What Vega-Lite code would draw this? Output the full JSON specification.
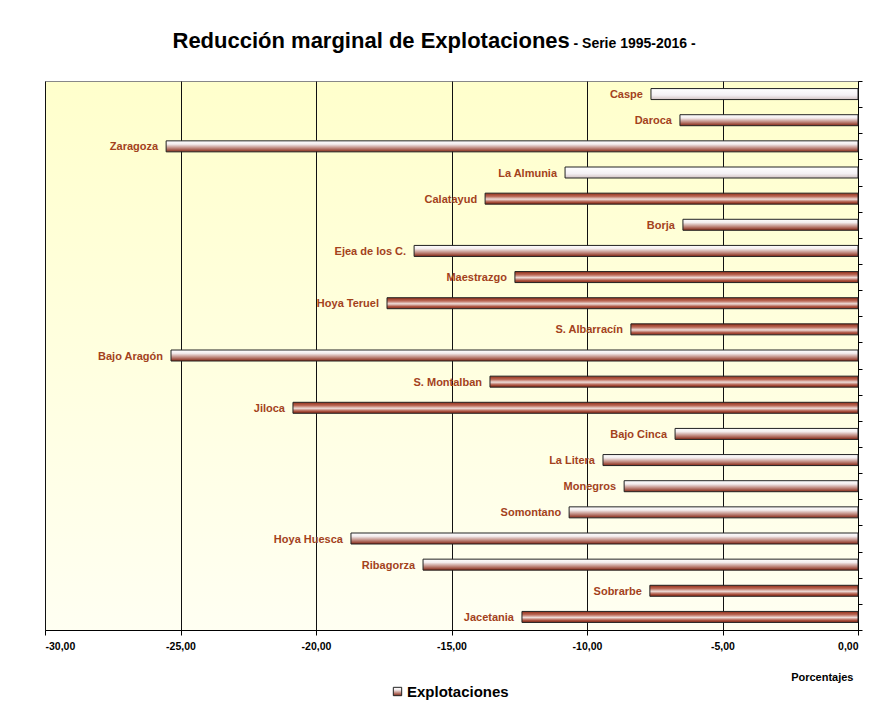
{
  "$schema": "https://vega.github.io/schema/vega-lite/v6.json",
  "width": 813,
  "height": 549,
  "autosize": {"type": "none"},
  "padding": {"left": 45, "top": 81, "right": 27, "bottom": 79},
  "background": "white",
  "title": {
    "text": "Reducción marginal de Explotaciones",
    "anchor": "start",
    "dx": 128,
    "offset": -17,
    "font": "Liberation Sans",
    "fontSize": 22,
    "fontWeight": "bold",
    "color": "#000000"
  },
  "data": {
    "values": [
      {"comarca": "Caspe", "valor": -7.64},
      {"comarca": "Daroca", "valor": -6.57},
      {"comarca": "Zaragoza", "valor": -25.53},
      {"comarca": "La Almunia", "valor": -10.81},
      {"comarca": "Calatayud", "valor": -13.76},
      {"comarca": "Borja", "valor": -6.46},
      {"comarca": "Ejea de los C.", "valor": -16.38},
      {"comarca": "Maestrazgo", "valor": -12.66},
      {"comarca": "Hoya  Teruel", "valor": -17.38},
      {"comarca": "S. Albarracín", "valor": -8.38},
      {"comarca": "Bajo Aragón", "valor": -25.35},
      {"comarca": "S. Montalban", "valor": -13.58},
      {"comarca": "Jiloca", "valor": -20.85},
      {"comarca": "Bajo Cinca", "valor": -6.75},
      {"comarca": "La Litera", "valor": -9.41},
      {"comarca": "Monegros", "valor": -8.63},
      {"comarca": "Somontano", "valor": -10.66},
      {"comarca": "Hoya  Huesca", "valor": -18.71},
      {"comarca": "Ribagorza", "valor": -16.05},
      {"comarca": "Sobrarbe", "valor": -7.68},
      {"comarca": "Jacetania", "valor": -12.4}
    ]
  },
  "encoding": {
    "y": {
      "field": "comarca",
      "type": "nominal",
      "sort": null,
      "scale": {
        "domain": ["Caspe", "Daroca", "Zaragoza", "La Almunia", "Calatayud", "Borja", "Ejea de los C.", "Maestrazgo", "Hoya  Teruel", "S. Albarracín", "Bajo Aragón", "S. Montalban", "Jiloca", "Bajo Cinca", "La Litera", "Monegros", "Somontano", "Hoya  Huesca", "Ribagorza", "Sobrarbe", "Jacetania"],
        "paddingInner": 0,
        "paddingOuter": 0
      },
      "axis": {
        "orient": "right",
        "labels": false,
        "title": "- Serie 1995-2016 -",
        "titleFont": "Liberation Sans",
        "titleFontSize": 14,
        "titleFontWeight": "bold",
        "titleColor": "#000000",
        "titleAngle": 0,
        "titleAlign": "left",
        "titleBaseline": "alphabetic",
        "titleX": -285,
        "titleY": -34,
        "grid": false,
        "ticks": true,
        "tickSize": 4,
        "tickBand": "extent",
        "tickColor": "#000000",
        "domainColor": "#000000",
        "domainWidth": 1
      }
    },
    "x": {
      "field": "valor",
      "type": "quantitative",
      "scale": {"domain": [-30, 0], "nice": false, "zero": false},
      "axis": {
        "orient": "bottom",
        "values": [-30, -25, -20, -15, -10, -5, 0],
        "grid": true,
        "gridColor": "#111111",
        "gridWidth": 1,
        "domainColor": "#000000",
        "domainWidth": 1.2,
        "tickColor": "#000000",
        "tickSize": 5,
        "labelExpr": "replace(replace(format(datum.value, '.2f'), '.', ','), '\u2212', '-')",
        "labelFont": "Liberation Sans",
        "labelFontSize": 10.5,
        "labelFontWeight": "bold",
        "labelColor": "#000000",
        "labelPadding": 6,
        "title": "Porcentajes",
        "titleFont": "Liberation Sans",
        "titleFontSize": 11,
        "titleFontWeight": "bold",
        "titleColor": "#000000",
        "titleAnchor": "end",
        "titleAlign": "right",
        "titleX": 808,
        "titlePadding": 20
      }
    }
  },
  "layer": [
    {
      "transform": [{"filter": {"field": "comarca", "oneOf": ["Daroca", "Zaragoza", "Borja", "Ejea de los C.", "Bajo Aragón", "Bajo Cinca", "La Litera", "Monegros", "Somontano", "Hoya  Huesca", "Ribagorza"]}}],
      "mark": {
        "type": "bar",
        "size": 11,
        "strokeWidth": 1,
        "color": {
          "gradient": "linear", "x1": 0, "y1": 0, "x2": 0, "y2": 1,
          "stops": [
            {"offset": 0, "color": "#ffffff"},
            {"offset": 0.3, "color": "#f3eced"},
            {"offset": 0.65, "color": "#c08a80"},
            {"offset": 1, "color": "#852614"}
          ]
        }
      },
      "encoding": {
        "x2": {"datum": 0},
        "stroke": {
          "datum": "Explotaciones",
          "scale": {"range": ["#222222"]},
          "legend": {
            "orient": "none",
            "legendX": 345,
            "legendY": 603,
            "title": null,
            "direction": "horizontal",
            "labelFont": "Liberation Sans",
            "labelFontSize": 15,
            "labelFontWeight": "bold",
            "labelColor": "#000000",
            "labelOffset": 2,
            "symbolType": "square",
            "symbolSize": 70,
            "symbolStrokeWidth": 1,
            "symbolFillColor": "#e8d8d8"
          }
        }
      }
    },
    {
      "transform": [{"filter": {"field": "comarca", "oneOf": ["Caspe", "La Almunia"]}}],
      "mark": {
        "type": "bar",
        "size": 11,
        "stroke": "#222222",
        "strokeWidth": 1,
        "color": {
          "gradient": "linear", "x1": 0, "y1": 0, "x2": 0, "y2": 1,
          "stops": [
            {"offset": 0, "color": "#ffffff"},
            {"offset": 0.6, "color": "#f4f0f4"},
            {"offset": 1, "color": "#d2c2c2"}
          ]
        }
      },
      "encoding": {"x2": {"datum": 0}}
    },
    {
      "transform": [{"filter": {"field": "comarca", "oneOf": ["Calatayud", "Maestrazgo", "Hoya  Teruel", "S. Albarracín", "S. Montalban", "Jiloca", "Sobrarbe", "Jacetania"]}}],
      "mark": {
        "type": "bar",
        "size": 11,
        "stroke": "#222222",
        "strokeWidth": 1,
        "color": {
          "gradient": "linear", "x1": 0, "y1": 0, "x2": 0, "y2": 1,
          "stops": [
            {"offset": 0, "color": "#922e18"},
            {"offset": 0.3, "color": "#bc6a58"},
            {"offset": 0.55, "color": "#eedcd8"},
            {"offset": 0.8, "color": "#ae5644"},
            {"offset": 1, "color": "#862814"}
          ]
        }
      },
      "encoding": {"x2": {"datum": 0}}
    },
    {
      "mark": {
        "type": "text",
        "align": "right",
        "baseline": "middle",
        "dx": -8,
        "dy": 1,
        "font": "Liberation Sans",
        "fontSize": 11,
        "fontWeight": "bold",
        "color": "#a3421c"
      },
      "encoding": {
        "text": {"field": "comarca"}
      }
    }
  ],
  "config": {
    "view": {
      "stroke": "#888888",
      "strokeWidth": 1,
      "fill": {
        "gradient": "linear", "x1": 0, "y1": 0, "x2": 0, "y2": 1,
        "stops": [
          {"offset": 0, "color": "#ffffcc"},
          {"offset": 1, "color": "#fffff2"}
        ]
      }
    }
  }
}
